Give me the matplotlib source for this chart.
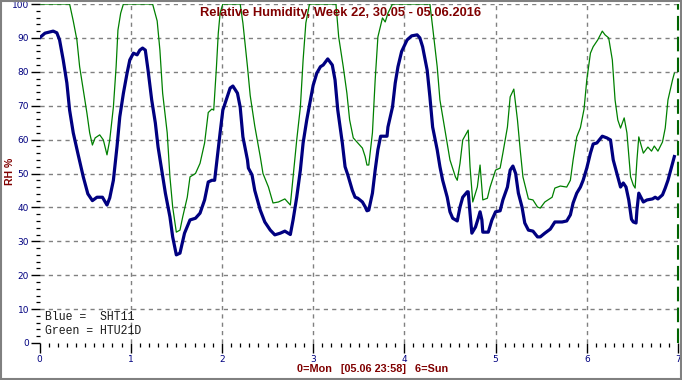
import matplotlib
matplotlib.use("Agg")
import matplotlib.pyplot as plt
from matplotlib.ticker import MultipleLocator
from matplotlib.patches import Rectangle

# ---- data (x in days, 0 = Monday) ----
blue_x = [0.00, 0.06, 0.15, 0.19, 0.22, 0.26, 0.30, 0.33, 0.37, 0.42, 0.48, 0.53, 0.58, 0.63, 0.69,
          0.74, 0.77, 0.81, 0.85, 0.88, 0.92, 0.96, 0.99, 1.03, 1.07, 1.10, 1.13, 1.16, 1.19, 1.23,
          1.27, 1.30, 1.34, 1.38, 1.43, 1.46, 1.50, 1.54, 1.59, 1.65, 1.71, 1.76, 1.81, 1.85, 1.89,
          1.92, 1.95, 1.98, 2.01, 2.06, 2.09, 2.12, 2.17, 2.20, 2.23, 2.28, 2.29, 2.33, 2.36, 2.42,
          2.47, 2.53, 2.58, 2.64, 2.69, 2.75, 2.78, 2.82, 2.86, 2.89, 2.93, 2.97, 3.00, 3.04, 3.08,
          3.11, 3.16, 3.21, 3.24, 3.27, 3.32, 3.35, 3.38, 3.43, 3.46, 3.49, 3.54, 3.57, 3.59, 3.61,
          3.65, 3.68, 3.71, 3.74, 3.81, 3.82, 3.87, 3.90, 3.93, 3.97, 4.03, 4.08, 4.14, 4.17, 4.20,
          4.25, 4.28, 4.31, 4.36, 4.39, 4.42, 4.47, 4.50, 4.53, 4.58, 4.61, 4.64, 4.69, 4.70, 4.72,
          4.74, 4.78, 4.81, 4.83, 4.85, 4.86, 4.92, 4.96, 5.00, 5.05, 5.08, 5.13, 5.16, 5.19, 5.22,
          5.25, 5.29, 5.32, 5.36, 5.41, 5.46, 5.49, 5.54, 5.60, 5.65, 5.73, 5.78, 5.82, 5.85, 5.89,
          5.93, 5.96, 6.00, 6.04, 6.07, 6.11, 6.17, 6.22, 6.26, 6.29, 6.34, 6.37, 6.40, 6.43, 6.46,
          6.49, 6.51, 6.54, 6.55, 6.57, 6.62, 6.66, 6.72, 6.75, 6.78, 6.83, 6.86, 6.89, 6.94, 6.96]
blue_rh = [90.0, 91.4, 92.0, 91.5, 89.4, 83.5, 76.7, 68.7, 62.0, 56.0, 49.0, 44.0, 42.0, 43.0, 43.0,
           40.7, 42.8, 48.0, 58.0, 66.7, 73.7, 79.6, 83.5, 85.5, 85.0, 86.4, 87.0, 86.4, 80.5, 71.7,
           64.9, 57.8, 51.0, 44.2, 37.2, 31.3, 26.0, 26.5, 32.4, 36.3, 36.8, 38.3, 42.2, 47.5, 48.0,
           48.0, 55.0, 62.0, 68.7, 72.7, 75.2, 75.8, 73.7, 69.6, 60.8, 54.0, 51.6, 49.6, 45.0, 39.2,
           35.7, 33.3, 31.9, 32.4, 33.0, 32.0, 36.3, 43.0, 51.0, 59.0, 65.8, 71.7, 76.0, 79.6, 81.5,
           82.0, 83.8, 82.0, 77.6, 68.7, 59.0, 52.0, 49.6, 45.0, 43.0, 42.7, 41.6, 40.2, 39.0, 39.2,
           44.2, 51.0, 57.0, 61.0, 61.0, 63.7, 69.6, 76.7, 81.5, 86.0, 89.4, 90.6, 90.9, 90.0, 87.4,
           80.5, 72.6, 63.7, 57.0, 52.0, 48.0, 43.0, 38.7, 36.8, 36.0, 40.1, 43.0, 44.6, 44.6, 38.3,
           32.4, 34.2, 36.8, 38.7, 36.3, 32.7, 32.7, 36.3, 38.7, 39.0, 42.2, 46.0, 51.0, 52.2, 50.0,
           44.2, 40.1, 35.4, 33.3, 33.0, 31.3, 31.3, 32.4, 33.6, 35.7, 35.7, 36.0, 37.8, 41.3, 44.2,
           46.0, 48.0, 51.6, 56.0, 58.7, 59.0, 61.0, 60.5, 59.9, 54.0, 49.0, 46.0, 47.2, 46.0, 42.2,
           36.5, 35.7, 35.4, 39.2, 44.2, 41.6, 42.2, 42.5, 43.0, 42.5, 43.7, 45.7, 48.0, 53.0, 55.0]

green_x = [0.00, 0.33, 0.37, 0.41, 0.44, 0.48, 0.52, 0.55, 0.58, 0.61, 0.66, 0.70, 0.74, 0.77, 0.81,
           0.84, 0.86, 0.89, 0.92, 1.24, 1.29, 1.32, 1.35, 1.40, 1.43, 1.46, 1.50, 1.54, 1.57, 1.62,
           1.65, 1.71, 1.76, 1.81, 1.85, 1.89, 1.91, 1.94, 1.96, 1.98, 2.01, 2.20, 2.23, 2.28, 2.31,
           2.36, 2.42, 2.45, 2.51, 2.56, 2.62, 2.69, 2.75, 2.78, 2.82, 2.86, 2.89, 2.92, 2.96, 3.25,
           3.28, 3.33, 3.37, 3.40, 3.44, 3.48, 3.54, 3.57, 3.59, 3.61, 3.65, 3.68, 3.71, 3.76, 3.79,
           3.82, 3.87, 4.28, 4.31, 4.36, 4.39, 4.45, 4.50, 4.56, 4.58, 4.61, 4.64, 4.70, 4.72, 4.75,
           4.80, 4.83, 4.86, 4.91, 4.94, 5.00, 5.05, 5.08, 5.13, 5.16, 5.20, 5.24, 5.27, 5.30, 5.36,
           5.41, 5.46, 5.49, 5.54, 5.62, 5.65, 5.71, 5.78, 5.82, 5.85, 5.89, 5.93, 5.97, 6.00, 6.04,
           6.07, 6.12, 6.17, 6.20, 6.24, 6.28, 6.31, 6.34, 6.37, 6.41, 6.44, 6.48, 6.51, 6.53, 6.55,
           6.57, 6.62, 6.67, 6.71, 6.74, 6.78, 6.83, 6.86, 6.89, 6.94, 6.96]
green_rh = [100.0, 100.0, 95.0, 89.4, 81.5, 74.6, 67.8, 62.0, 58.4, 60.5, 61.4, 59.9, 55.5, 59.9, 69.6,
            81.5, 92.3, 97.3, 100.0, 100.0, 95.0, 86.4, 73.7, 62.0, 49.0, 40.1, 32.7, 33.3, 37.2, 43.0,
            49.0, 50.0, 53.0, 59.0, 68.0, 69.0, 68.7, 81.5, 91.4, 97.3, 100.0, 100.0, 94.4, 81.5, 73.0,
            64.0, 55.0, 50.0, 46.0, 41.3, 41.6, 42.5, 40.7, 49.0, 59.9, 69.6, 83.5, 94.4, 100.0, 100.0,
            90.3, 81.5, 73.7, 65.8, 60.5, 59.3, 57.5, 55.0, 52.5, 52.5, 62.0, 77.6, 90.3, 95.9, 94.7,
            97.3, 100.0, 100.0, 93.2, 81.5, 71.7, 62.0, 54.0, 49.0, 48.0, 53.0, 59.9, 62.8, 52.0, 41.6,
            46.0, 52.5, 42.2, 42.7, 46.0, 51.0, 51.6, 56.0, 63.7, 72.6, 74.9, 65.8, 57.0, 49.0, 42.5,
            42.2, 40.1, 39.8, 41.6, 43.0, 45.7, 46.3, 46.0, 48.0, 54.0, 60.8, 63.5, 69.0, 77.6, 85.5,
            87.4, 89.4, 92.0, 90.9, 90.0, 83.5, 71.7, 65.8, 63.4, 66.4, 62.0, 49.0, 46.6, 45.7, 54.0,
            60.8, 56.0, 57.8, 56.6, 58.1, 56.6, 59.3, 63.4, 71.7, 77.6, 79.6]

x_ticks = [0, 1, 2, 3, 4, 5, 6, 7]
y_ticks = [0, 10, 20, 30, 40, 50, 60, 70, 80, 90, 100]
now_x = 7

title = "Relative Humidity, Week 22, 30.05 - 05.06.2016"
ylabel = "RH %"
footer = "0=Mon   [05.06 23:58]   6=Sun"
legend_lines = ["Blue =  SHT11", "Green = HTU21D"]

NAVY = "#000080"
DARKRED = "#800000"

fig = plt.figure(figsize=(6.82, 3.80), dpi=100)
fig.patch.set_facecolor("white")
ax = fig.add_axes([39.5 / 682, 37 / 380, 638.5 / 682, 339 / 380])
ax.set_xlim(0, 7)
ax.set_ylim(0, 100)

for s in ax.spines.values():
    s.set_visible(False)

# grid
for v in y_ticks[1:]:
    ax.axhline(v, color="#808080", lw=1.0, ls=(0, (3, 3)), zorder=1)
for v in x_ticks[1:-1]:
    ax.axvline(v, color="#808080", lw=1.0, ls=(0, (3, 3)), zorder=1)
ax.axvline(now_x, color="#006400", lw=1.5, ls=(0, (7, 3)), zorder=2, clip_on=False)

ax.plot(green_x, green_rh, color="#008000", lw=0.9, zorder=3)
ax.plot(blue_x, blue_rh, color=NAVY, lw=2.3, zorder=4)

ax.set_xticks(x_ticks)
ax.set_yticks(y_ticks)
ax.xaxis.set_minor_locator(MultipleLocator(0.1))
ax.yaxis.set_minor_locator(MultipleLocator(2))
ax.tick_params(axis="both", which="major", colors="black", labelcolor=NAVY,
               labelsize=6.5, width=1.0, direction="out")
ax.tick_params(axis="y", which="major", length=6.5, pad=1)
ax.tick_params(axis="x", which="major", length=7.5, pad=1)
ax.tick_params(axis="both", which="minor", length=3, width=0.9, colors="black", direction="out")

fig.text(341 / 682, 1 - 13 / 380, title, ha="center", va="center", color=DARKRED,
         fontsize=9.3, fontweight="bold", family="Liberation Sans")
fig.text(373 / 682, 1 - 369 / 380, footer, ha="center", va="center", color=DARKRED,
         fontsize=7.8, fontweight="bold", family="Liberation Sans")
fig.text(10 / 682, 1 - 171 / 380, ylabel, ha="center", va="center", rotation=90,
         color=DARKRED, fontsize=7.5, fontweight="bold", family="Liberation Sans")
for i, line in enumerate(legend_lines):
    fig.text(45 / 682, 1 - (317 + 14 * i) / 380, line, ha="left", va="center",
             color="#1a1a1a", fontsize=8.3, family="Liberation Mono")

fig.patches.append(Rectangle((0.001, 0.002), 0.997, 0.995, transform=fig.transFigure,
                             fill=False, edgecolor="#808080", lw=1.5))

fig.savefig("out.png", dpi=100, facecolor="white")
